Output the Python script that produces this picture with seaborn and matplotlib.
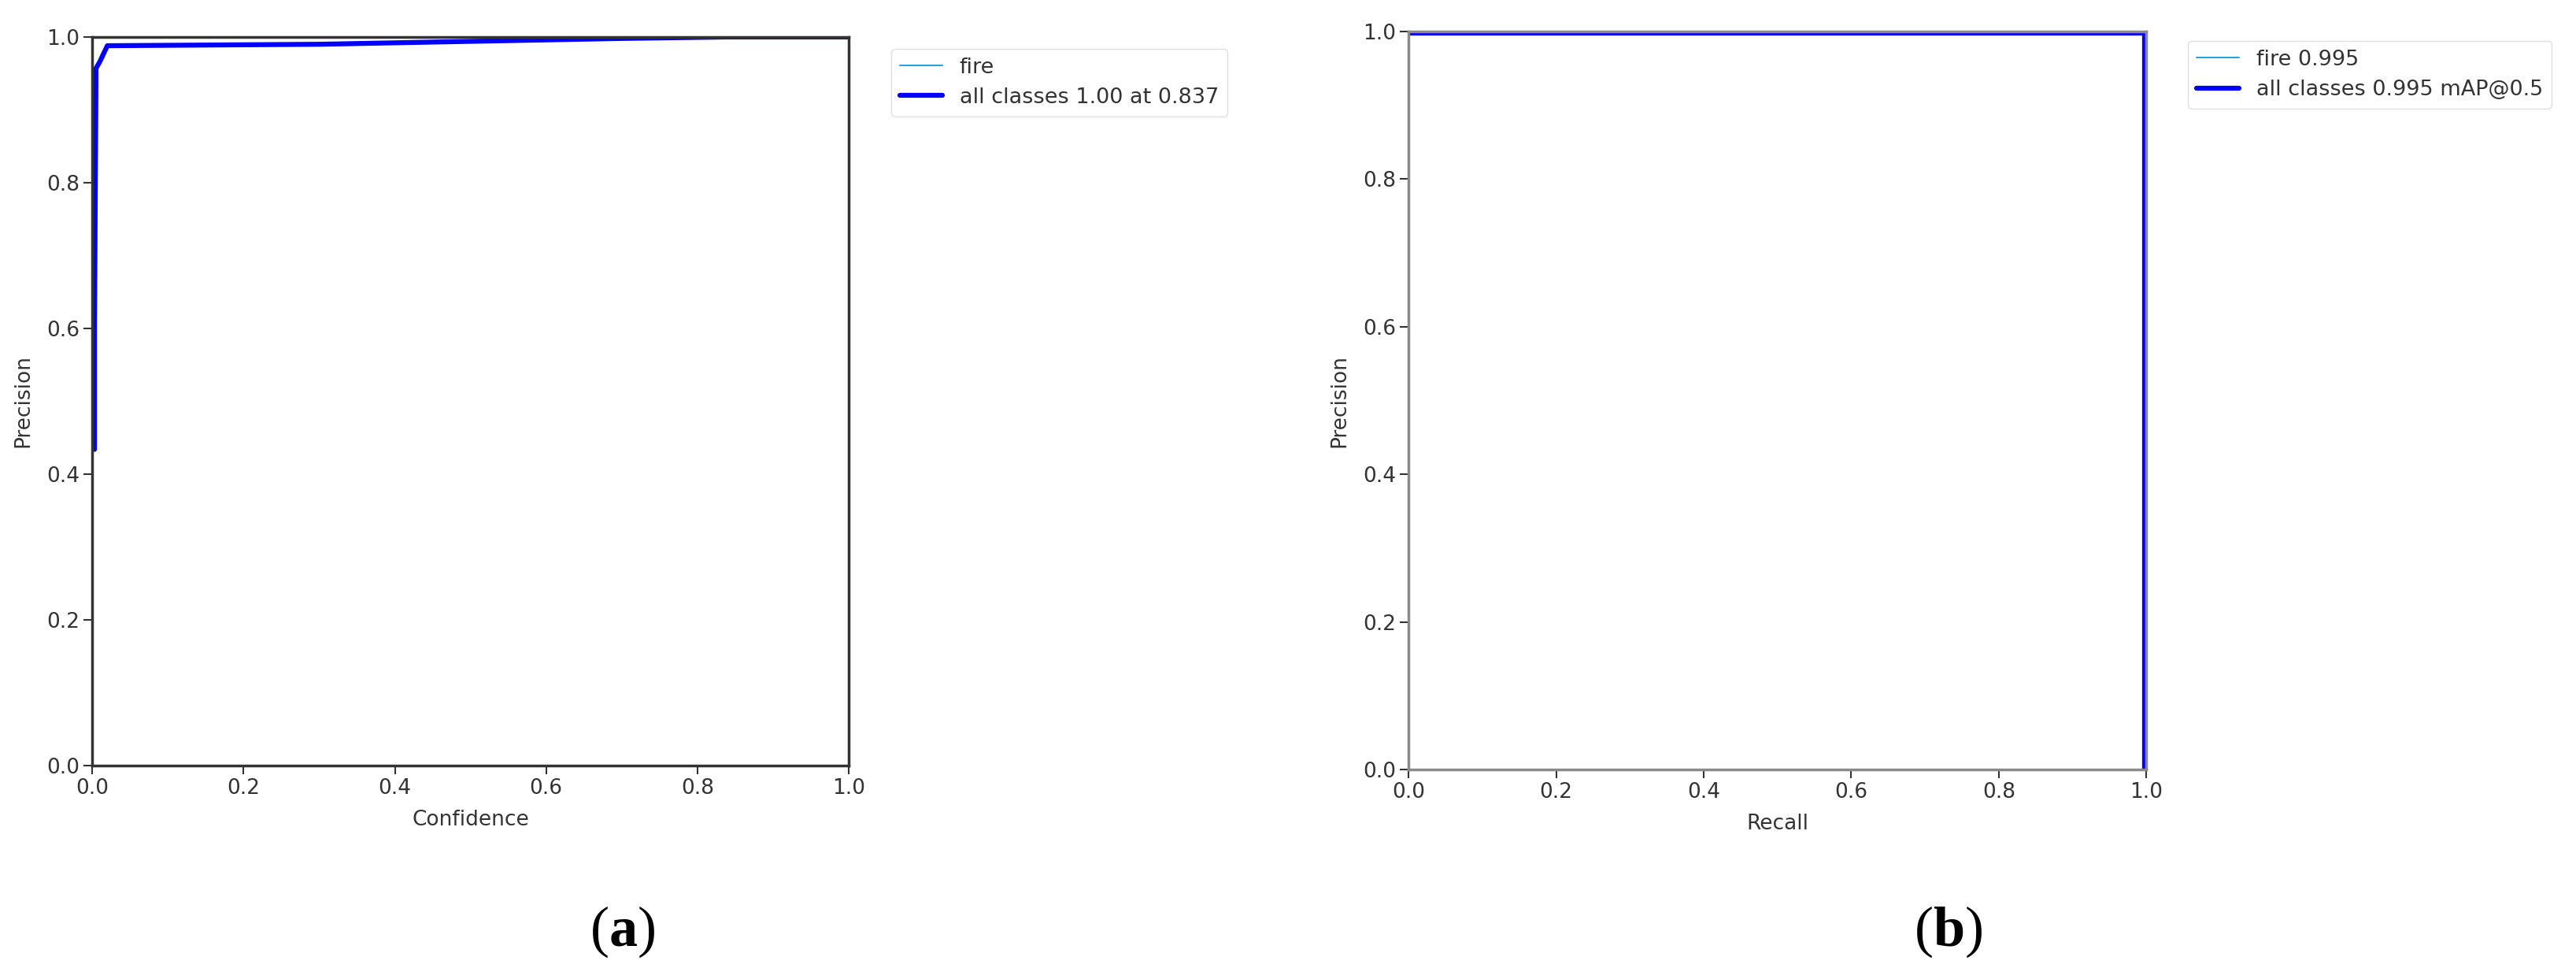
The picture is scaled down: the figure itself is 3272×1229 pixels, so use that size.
import numpy as np
import pandas as pd
import matplotlib
matplotlib.use("Agg")
import matplotlib.pyplot as plt
import seaborn as sns

# ---- data ----
conf_x = [0.003, 0.003, 0.005, 0.010, 0.020, 0.30, 0.50, 0.70, 0.837, 1.0]
conf_p = [0.434, 0.600, 0.957, 0.966, 0.988, 0.990, 0.994, 0.998, 1.000, 1.000]
recall_x = [0.0, 0.998, 0.998]
recall_p = [0.998, 0.998, 0.0]
ticks = [0.0, 0.2, 0.4, 0.6, 0.8, 1.0]
tick_labels = ["0.0", "0.2", "0.4", "0.6", "0.8", "1.0"]
legend_a = ["fire", "all classes 1.00 at 0.837"]
legend_b = ["fire 0.995", "all classes 0.995 mAP@0.5"]
panel_labels = ["a", "b"]

sns.set_style("ticks")
plt.rcParams["font.family"] = ["DejaVu Sans"]
plt.rcParams["mathtext.fontset"] = "custom"
plt.rcParams["mathtext.rm"] = "Liberation Serif"
plt.rcParams["mathtext.bf"] = "Liberation Serif:bold"

FIRE = "#29a3dc"
ALL = "#0000ff"

fig = plt.figure(figsize=(32.72, 12.29), dpi=100)
ax_a = fig.add_axes([0.0358, 0.2091, 0.2937, 0.7527])
ax_b = fig.add_axes([0.5468, 0.2050, 0.2864, 0.7624])

df_a = pd.DataFrame({"x": conf_x, "y": conf_p})
df_b = pd.DataFrame({"x": recall_x, "y": recall_p})

for ax, df, xlabel, labels, spine_col in [
    (ax_a, df_a, "Confidence", legend_a, "#333333"),
    (ax_b, df_b, "Recall", legend_b, "#8a8a8a"),
]:
    sns.lineplot(data=df, x="x", y="y", ax=ax, color=FIRE, lw=1.5,
                 sort=False, estimator=None, label=labels[0])
    sns.lineplot(data=df, x="x", y="y", ax=ax, color=ALL, lw=4.5,
                 sort=False, estimator=None, label=labels[1])
    ax.set_xlim(0, 1)
    ax.set_ylim(0, 1)
    ax.set_xticks(ticks)
    ax.set_xticklabels(tick_labels)
    ax.set_yticks(ticks)
    ax.set_yticklabels(tick_labels)
    ax.set_xlabel(xlabel, fontsize=19, color="#333333", labelpad=10)
    ax.set_ylabel("Precision", fontsize=19, color="#333333", labelpad=12)
    ax.tick_params(axis="both", labelsize=19, labelcolor="#333333",
                   length=8, width=1.5, color="#333333", direction="out")
    for s in ax.spines.values():
        s.set_visible(True)
        s.set_color(spine_col)
        s.set_linewidth(2.5)
    ax.get_legend().remove()

for ax, anchor in [(ax_a, (0.346, 0.9496)), (ax_b, (0.8493, 0.9577))]:
    h, l = ax.get_legend_handles_labels()
    leg = fig.legend(h, l, loc="upper left", bbox_to_anchor=anchor,
                     fontsize=19.5, frameon=True, edgecolor="#d8d8d8",
                     handlelength=2.0, borderaxespad=0, labelspacing=0.45)
    for t in leg.get_texts():
        t.set_color("#333333")

for xpos, lab in zip([0.2417, 0.7564], panel_labels):
    fig.text(xpos, 0.0374, r"($\mathbf{%s}$)" % lab, ha="center", va="center",
             fontsize=52, family="Liberation Serif", color="black")

fig.savefig("out.png", dpi=100, facecolor="white")
